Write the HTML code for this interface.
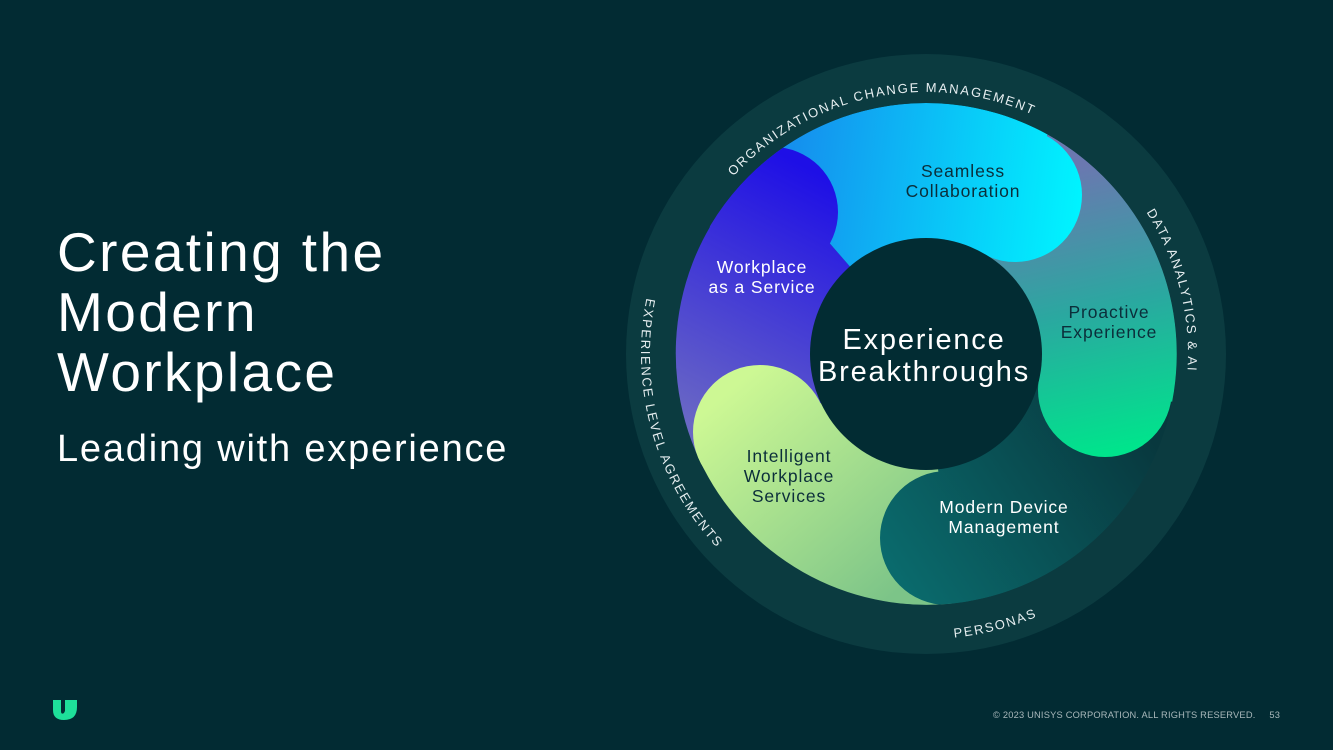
<!DOCTYPE html>
<html><head><meta charset="utf-8"><style>
html,body{margin:0;padding:0;background:#022b33;}
body{width:1333px;height:750px;position:relative;overflow:hidden;font-family:"Liberation Sans",sans-serif;}
.t{position:absolute;left:57px;color:#fff;}
</style></head><body>
<div class="t" style="top:222px;font-size:55px;line-height:60px;letter-spacing:2.4px;">Creating the<br>Modern<br>Workplace</div>
<div class="t" style="top:426px;font-size:38px;line-height:46px;letter-spacing:1.8px;">Leading with experience</div>
<div style="position:absolute;left:993px;top:710px;font-size:9.3px;color:#a9b8bb;letter-spacing:0.2px;">© 2023 UNISYS CORPORATION. ALL RIGHTS RESERVED.&nbsp;&nbsp;&nbsp;&nbsp;&nbsp;53</div>
<svg style="position:absolute;left:52px;top:699px" width="26" height="22" viewBox="0 0 26 22"><path d="M1 1 H9 V12 Q9 16 12 14 L13 12 V1 H25 V8 Q25 21 12 21 Q1 21 1 11 Z" fill="#1ee09a"/></svg>
<svg style="position:absolute;left:0;top:0" width="1333" height="750">
<defs>
<clipPath id="disc"><circle cx="926" cy="354" r="251"/></clipPath>
<linearGradient id="gW" gradientUnits="userSpaceOnUse" x1="700" y1="430" x2="830" y2="180"><stop offset="0" stop-color="#6a68c4"/><stop offset="1" stop-color="#1e0fe6"/></linearGradient>
<linearGradient id="gS" gradientUnits="userSpaceOnUse" x1="790" y1="170" x2="1080" y2="210"><stop offset="0" stop-color="#1590ee"/><stop offset="1" stop-color="#00f4ff"/></linearGradient>
<linearGradient id="gP" gradientUnits="userSpaceOnUse" x1="1060" y1="170" x2="1120" y2="450"><stop offset="0" stop-color="#6a78b0"/><stop offset="0.5" stop-color="#2aa8a0"/><stop offset="1" stop-color="#00e48c"/></linearGradient>
<linearGradient id="gM" gradientUnits="userSpaceOnUse" x1="1140" y1="420" x2="900" y2="580"><stop offset="0" stop-color="#08383e"/><stop offset="1" stop-color="#0a6a6c"/></linearGradient>
<linearGradient id="gI" gradientUnits="userSpaceOnUse" x1="900" y1="590" x2="730" y2="390"><stop offset="0" stop-color="#7cc488"/><stop offset="1" stop-color="#cdf894"/></linearGradient>
<path id="cwr" d="M664,354 A262,262 0 1 1 1188,354 A262,262 0 1 1 664,354"/>
<path id="ccw" d="M1211,354 A285,285 0 1 0 641,354 A285,285 0 1 0 1211,354"/>
</defs>
<circle cx="926" cy="354" r="300" fill="#0b3b40"/>
<g clip-path="url(#disc)">
<path d="M926,354 L699.4,459.7 A251,251 0 0 1 761.3,164.6 Z" fill="url(#gW)"/>
<path d="M926,354 L761.3,164.6 A251,251 0 0 1 1047.7,134.5 Z" fill="url(#gS)"/>
<path d="M926,354 L1047.7,134.5 A251,251 0 0 1 1172.1,401.9 Z" fill="url(#gP)"/>
<path d="M926,354 L1172.1,401.9 A251,251 0 0 1 952.2,603.6 Z" fill="url(#gM)"/>
<path d="M926,354 L952.2,603.6 A251,251 0 0 1 699.4,459.7 Z" fill="url(#gI)"/>
<circle cx="773" cy="212" r="65" fill="url(#gW)"/>
<circle cx="1015" cy="195" r="67" fill="url(#gS)"/>
<circle cx="1105" cy="390" r="67" fill="url(#gP)"/>
<circle cx="947" cy="538" r="67" fill="url(#gM)"/>
<circle cx="760" cy="432" r="67" fill="url(#gI)"/>
</g>
<circle cx="926" cy="354" r="116" fill="#022c33"/>
<g font-family="Liberation Sans, sans-serif" font-size="17.5" text-anchor="middle" letter-spacing="0.9">
<text x="963" y="177" fill="#0b2e3a">Seamless</text><text x="963" y="197" fill="#0b2e3a">Collaboration</text>
<text x="762" y="273" fill="#fff">Workplace</text><text x="762" y="293" fill="#fff">as a Service</text>
<text x="1109" y="318" fill="#0b2e3a">Proactive</text><text x="1109" y="338" fill="#0b2e3a">Experience</text>
<text x="789" y="462" fill="#0b2e3a">Intelligent</text><text x="789" y="482" fill="#0b2e3a">Workplace</text><text x="789" y="502" fill="#0b2e3a">Services</text>
<text x="1004" y="513" fill="#fff">Modern Device</text><text x="1004" y="533" fill="#fff">Management</text>
<text x="924" y="349" fill="#fff" font-size="29" letter-spacing="1.8">Experience</text><text x="924" y="381" fill="#fff" font-size="29" letter-spacing="1.8">Breakthroughs</text>
</g>
<g font-family="Liberation Sans, sans-serif" font-size="13" fill="#e6eef0" letter-spacing="1.8" text-anchor="middle">
<text><textPath href="#cwr" startOffset="21.8%">ORGANIZATIONAL CHANGE MANAGEMENT</textPath></text>
<text><textPath href="#cwr" startOffset="46%">DATA ANALYTICS &amp; AI</textPath></text>
<text><textPath href="#ccw" startOffset="79%">PERSONAS</textPath></text>
<text><textPath href="#ccw" startOffset="54.4%">EXPERIENCE LEVEL AGREEMENTS</textPath></text>
</g>
</svg>
</body></html>
